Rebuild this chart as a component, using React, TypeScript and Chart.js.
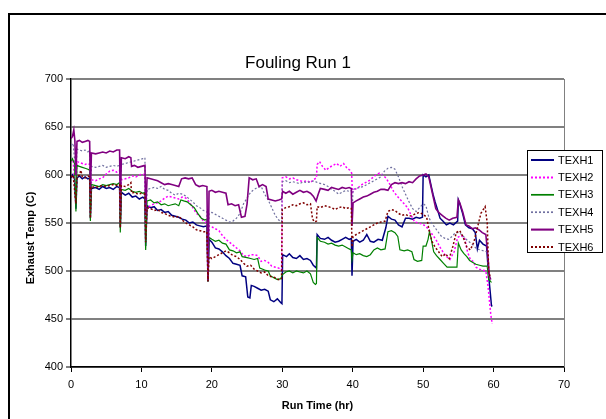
import React, { useEffect, useRef } from "react";
import { Chart, registerables } from "chart.js";

Chart.register(...registerables);

const TITLE = "Fouling Run 1";
const X_TITLE = "Run Time (hr)";
const Y_TITLE = "Exhaust Temp (C)";
const SERIES_NAMES = ["TEXH1", "TEXH2", "TEXH3", "TEXH4", "TEXH5", "TEXH6"];
const X_MIN = 0, X_MAX = 70, X_STEP = 10;
const Y_MIN = 400, Y_MAX = 700, Y_STEP = 50;

// [hours, temp C]
const texh1: [number, number][] = [
  [0,597],[0.2,600],[0.5,596],[0.7,565],[0.85,597],[1.2,599],[1.6,596],[2,598],[2.4,596],[2.65,597],[2.75,555],[2.9,586],
  [3.5,587],[4,585],[4.5,588],[5,586],[5.5,587],[6,585],[6.5,588],[6.9,587],[7,545],[7.15,582],[7.7,579],[8.2,581],
  [8.7,577],[9.2,578],[9.7,575],[10.2,577],[10.5,575],[10.6,526],[10.8,568],[11.3,566],[11.8,567],[12.3,563],[12.8,564],
  [13.3,561],[13.8,562],[14.3,558],[14.8,557],[15.3,556],[15.8,554],[16.3,553],[16.8,550],[17.3,551],[17.8,548],[18.3,547],
  [18.8,546],[19.3,547],[19.45,489],[19.6,533],[20,530],[20.5,524],[21,523],[21.5,520],[22,516],[22.5,513],[23,508],
  [23.5,507],[24,506],[24.3,495],[24.8,494],[25.1,473],[25.4,472],[25.6,485],[26,484],[26.5,482],[27,480],[27.5,481],
  [28,479],[28.3,470],[28.8,468],[29.3,471],[29.8,467],[29.95,466],[30.05,517],[30.6,515],[31,518],[31.5,514],[32,513],
  [32.5,516],[33,512],[33.5,513],[34,511],[34.4,506],[34.7,504],[34.85,503],[34.95,538],[35.4,534],[36,533],[36.5,535],
  [37,532],[37.5,530],[38,531],[38.5,533],[39,535],[39.5,533],[39.8,534],[39.9,495],[40.05,531],[40.5,533],[41,530],
  [41.5,532],[42,538],[42.5,531],[43,530],[43.6,533],[44.2,532],[44.7,545],[45,557],[45.5,554],[46,553],[46.5,548],
  [47,546],[47.5,555],[48,555],[48.5,554],[49,556],[49.5,555],[49.9,556],[50,600],[50.4,598],[50.8,600],[51.1,590],
  [51.4,580],[51.7,572],[52,565],[52.4,555],[52.8,552],[53.3,548],[53.8,550],[54.3,548],[54.9,552],[55,574],[55.2,570],
  [55.6,560],[56,548],[56.5,545],[57,544],[57.4,540],[57.7,523],[58,532],[58.5,528],[59,526],[59.3,495],[59.5,480],
  [59.7,464],[59.8,463]
];

const texh2: [number, number][] = [
  [0,614],[0.3,616],[0.7,575],[0.85,614],[1.2,613],[1.6,612],[2,611],[2.4,612],[2.65,611],[2.75,560],[2.9,595],
  [3.5,594],[4,596],[4.5,597],[5,601],[5.5,604],[6,605],[6.5,603],[6.9,605],[7,550],[7.15,595],[7.7,596],[8.2,597],
  [8.7,599],[9.2,598],[9.7,600],[10.2,601],[10.5,600],[10.6,535],[10.8,566],[11.3,568],[11.8,570],[12.3,571],[12.8,573],
  [13.3,576],[13.8,578],[14.3,577],[14.8,576],[15.3,575],[15.8,577],[16.3,576],[16.8,572],[17.3,566],[17.8,560],
  [18.3,557],[18.8,552],[19.3,550],[19.45,495],[19.6,547],[20,546],[20.5,544],[21,542],[21.5,537],[22,533],[22.5,530],
  [23,527],[23.5,524],[24,521],[24.5,516],[25,515],[25.5,517],[26,517],[26.5,516],[27,510],[27.5,511],[28,509],
  [28.5,505],[29,504],[29.5,503],[29.9,501],[30,597],[30.5,598],[31,596],[31.5,597],[32,595],[32.5,594],[33,593],
  [33.5,594],[34,592],[34.4,595],[34.85,597],[34.95,611],[35.3,614],[35.7,609],[36.2,605],[36.7,608],[37.2,610],
  [37.7,612],[38.2,609],[38.7,612],[39.2,607],[39.6,605],[39.85,602],[39.95,582],[40.3,585],[40.8,587],[41.3,590],
  [41.8,592],[42.3,594],[42.8,597],[43.3,600],[43.8,602],[44.3,600],[44.8,596],[45.3,590],[45.8,583],[46.3,578],
  [46.8,574],[47.3,570],[47.8,566],[48.3,558],[48.8,551],[49.3,550],[49.8,549],[50.3,547],[50.8,543],[51.3,538],
  [51.8,533],[52.3,526],[52.8,520],[53.3,515],[53.8,512],[54.4,520],[54.9,535],[55.4,537],[55.9,534],[56.3,520],
  [56.7,512],[57.1,510],[57.5,504],[57.9,502],[58.4,501],[58.9,500],[59.2,485],[59.4,470],[59.6,455],[59.8,445]
];

const texh3: [number, number][] = [
  [0,614],[0.2,617],[0.5,612],[0.7,562],[0.85,610],[1.2,609],[1.6,608],[2,607],[2.4,606],[2.65,605],[2.75,552],[2.9,590],
  [3.5,589],[4,588],[4.5,590],[5,589],[5.5,590],[6,591],[6.5,590],[6.9,592],[7,540],[7.15,585],[7.7,584],[8.2,586],
  [8.7,583],[9.2,582],[9.7,583],[10.2,581],[10.5,582],[10.6,522],[10.8,573],[11.3,574],[11.8,571],[12.3,572],[12.8,569],
  [13.3,570],[13.8,568],[14.3,569],[14.8,570],[15.3,568],[15.6,574],[16,573],[16.5,572],[17,569],[17.5,566],[18,560],
  [18.5,555],[19,553],[19.3,554],[19.45,489],[19.6,535],[20,533],[20.5,531],[21,532],[21.5,529],[22,528],[22.5,522],
  [23,521],[23.5,519],[24,520],[24.3,515],[25,514],[25.5,513],[26,512],[26.5,513],[26.8,503],[27.5,501],[28,500],
  [28.3,495],[28.8,493],[29.3,491],[29.8,492],[30,496],[30.5,499],[31,500],[31.5,498],[32,500],[32.5,499],[33,498],
  [33.5,500],[34,497],[34.4,488],[34.7,486],[34.85,487],[34.95,535],[35.4,531],[36,530],[36.5,528],[37,529],[37.5,527],
  [38,526],[38.5,527],[39,525],[39.5,523],[39.8,522],[39.9,512],[40.05,519],[40.5,517],[41,518],[41.5,516],[42,515],
  [42.5,517],[43,522],[43.5,524],[44,522],[44.6,523],[45,541],[45.5,542],[46,540],[46.4,536],[46.7,522],[47.3,521],
  [47.8,522],[48.4,520],[48.7,512],[49.2,510],[49.8,511],[50,526],[50.4,526],[50.7,533],[50.9,541],[51.1,535],[51.5,520],
  [51.9,516],[52.4,512],[52.9,508],[53.4,504],[53.9,504],[54.8,504],[55,529],[55.4,522],[55.8,518],[56.2,515],[56.6,511],
  [57,509],[57.5,507],[58,506],[58.5,505],[59.1,505],[59.3,491],[59.5,490],[59.7,488]
];

const texh4: [number, number][] = [
  [0,631],[0.3,633],[0.7,600],[0.85,627],[1.2,626],[1.6,625],[2,626],[2.4,624],[2.65,626],[2.75,575],[2.9,609],
  [3.5,608],[4,609],[4.5,610],[5,608],[5.5,609],[6,610],[6.5,609],[6.9,610],[7,560],[7.15,611],[7.7,612],[8.2,613],
  [8.7,614],[9.2,615],[9.7,616],[10.2,617],[10.5,618],[10.6,548],[10.8,585],[11.3,586],[11.8,587],[12.3,586],[12.8,588],
  [13.3,585],[13.8,584],[14.3,581],[14.8,579],[15.3,581],[15.8,580],[16.3,578],[16.8,575],[17.3,572],[17.8,568],
  [18.3,566],[18.8,563],[19.3,562],[19.45,500],[19.6,560],[20,561],[20.5,559],[21,557],[21.5,555],[22,553],[22.5,551],
  [23,552],[23.5,555],[24,560],[24.5,570],[25,576],[25.5,582],[26,585],[26.5,587],[27,588],[27.5,580],[28,574],
  [28.5,566],[29,558],[29.5,553],[29.9,551],[30,593],[30.5,594],[31,592],[31.5,593],[32,592],[32.5,591],[33,593],
  [33.5,592],[34,593],[34.5,594],[35,592],[35.5,591],[36,590],[36.5,588],[37,585],[37.5,583],[38,580],[38.5,582],
  [39,584],[39.5,583],[39.8,584],[39.9,560],[40.05,585],[40.5,586],[41,587],[41.5,588],[42,590],[42.5,592],[43,594],
  [43.5,596],[44,598],[44.5,604],[45,607],[45.5,608],[46,606],[46.5,598],[47,588],[47.5,580],[48,572],[48.5,565],
  [49,562],[49.5,566],[50,570],[50.4,568],[50.8,556],[51.2,550],[51.6,546],[52.1,541],[52.6,536],[53.1,534],[53.6,533],
  [54.1,536],[54.6,540],[55.1,540],[55.6,537],[56.1,533],[56.6,530],[57.1,527],[57.6,523],[58.1,522],[58.6,521],
  [59.1,520],[59.3,495],[59.5,492]
];

const texh5: [number, number][] = [
  [0,638],[0.2,640],[0.4,647],[0.55,636],[0.7,600],[0.85,635],[1.2,636],[1.6,634],[2,635],[2.4,636],[2.65,635],[2.75,580],
  [2.9,623],[3.5,622],[4,623],[4.5,624],[5,623],[5.5,625],[6,624],[6.5,626],[6.9,626],[7,565],[7.15,618],[7.7,617],
  [8.2,619],[8.5,618],[8.6,609],[9,610],[9.5,608],[10,609],[10.5,610],[10.6,559],[10.8,597],[11.3,596],[11.8,595],
  [12.3,594],[12.8,592],[13.3,590],[13.8,591],[14.3,590],[14.8,589],[15.3,588],[15.7,596],[16.2,597],[16.7,596],
  [17.2,597],[17.7,590],[18.2,588],[18.7,589],[19.3,588],[19.45,490],[19.6,583],[20,584],[20.5,582],[21,583],[21.5,582],
  [22,581],[22.3,569],[22.8,570],[23.3,568],[23.8,569],[24.2,556],[24.7,557],[25,570],[25.3,597],[25.8,595],[26.3,596],
  [26.7,588],[27.2,590],[27.7,588],[28,575],[28.5,574],[29,573],[29.5,574],[29.9,575],[30.05,583],[30.5,581],[31,583],
  [31.5,580],[32,582],[32.5,584],[33,582],[33.5,583],[34,581],[34.4,578],[34.8,573],[35.1,580],[35.4,586],[36,585],
  [36.5,584],[37,587],[37.5,586],[38,585],[38.5,587],[39,586],[39.5,587],[39.8,586],[39.9,547],[40.05,571],[40.5,573],
  [41,575],[41.5,577],[42,578],[42.5,580],[43,582],[43.5,583],[44,585],[44.5,585],[45,584],[45.5,590],[46,592],
  [46.5,591],[47,592],[47.5,591],[48,593],[48.5,592],[49,596],[49.5,599],[50,600],[50.4,601],[50.8,598],[51.1,588],
  [51.4,578],[51.8,565],[52.2,561],[52.7,558],[53.2,555],[53.7,553],[54.2,555],[54.8,556],[55,574],[55.2,571],[55.6,562],
  [56.1,548],[56.5,547],[57,544],[57.4,545],[57.9,543],[58.4,540],[58.9,538],[59.2,515],[59.4,495],[59.6,491]
];

const texh6: [number, number][] = [
  [0,598],[0.3,600],[0.7,570],[0.85,598],[1.2,600],[1.4,605],[1.6,598],[2,597],[2.4,599],[2.65,598],[2.75,555],[2.9,588],
  [3.5,587],[4,588],[4.5,589],[5,588],[5.5,589],[6,590],[6.5,589],[6.9,590],[7,545],[7.15,589],[7.7,588],[8.2,590],
  [8.5,592],[8.6,581],[9,582],[9.5,580],[10,581],[10.5,580],[10.6,530],[10.8,566],[11.3,565],[11.8,563],[12.3,564],
  [12.8,561],[13.3,560],[13.8,558],[14.3,557],[14.8,556],[15.3,557],[15.8,553],[16.3,550],[16.8,548],[17.3,546],
  [17.8,543],[18.3,542],[18.8,541],[19.3,541],[19.45,489],[19.6,515],[20,513],[20.5,515],[21,517],[21.5,519],[22,521],
  [22.5,519],[23,516],[23.5,515],[24,512],[24.5,508],[25,505],[25.5,506],[26,502],[26.5,500],[27,498],[27.5,499],
  [28,495],[28.5,494],[29,493],[29.5,491],[29.9,492],[30,564],[30.5,566],[31,567],[31.5,569],[32,568],[32.5,570],
  [33,571],[33.5,569],[34,570],[34.3,554],[34.6,551],[34.85,552],[34.95,567],[35.4,566],[36,568],[36.5,567],[37,566],
  [37.5,564],[38,566],[38.5,567],[39,565],[39.5,566],[39.8,565],[39.9,525],[40.05,536],[40.5,538],[41,540],[41.5,542],
  [42,544],[42.5,546],[43,548],[43.5,550],[44,551],[44.6,552],[45,562],[45.5,564],[46,563],[46.5,560],[47,558],
  [47.5,559],[48,557],[48.5,558],[49,560],[49.5,561],[50,559],[50.5,556],[50.9,540],[51.3,530],[51.7,525],[52.2,520],
  [52.7,515],[53.2,518],[53.7,513],[54.2,525],[54.7,540],[55.2,542],[55.7,535],[56.2,525],[56.7,522],[57.2,530],
  [57.7,545],[58.2,560],[58.8,567],[59.1,550],[59.3,500],[59.5,494]
];

const SERIES = [texh1, texh2, texh3, texh4, texh5, texh6];
const COLORS = ["#000080", "#FF00FF", "#008000", "#7070A0", "#800080", "#800000"];
const WIDTHS = [1.5, 1.5, 1.2, 1.2, 1.6, 1.5];
const DASHES: number[][] = [[], [2, 2], [], [2, 2], [], [2, 2]];

const FONT = '"Liberation Sans", Arial, sans-serif';

const decor = {
  id: "decor",
  beforeDraw(chart: any) {
    const { ctx, width, height } = chart;
    ctx.save();
    ctx.fillStyle = "#ffffff";
    ctx.fillRect(0, 0, width, height);
    ctx.fillStyle = "#000000";
    ctx.fillRect(8, 13, width, 2);
    ctx.fillRect(8, 13, 2, height);
    ctx.restore();
  },
  afterDraw(chart: any) {
    const { ctx, chartArea: ca } = chart;
    ctx.save();
    ctx.strokeStyle = "#808080";
    ctx.lineWidth = 1;
    ctx.beginPath();
    ctx.moveTo(ca.right + 0.5, ca.top);
    ctx.lineTo(ca.right + 0.5, ca.bottom);
    ctx.stroke();

    ctx.fillStyle = "#000";
    ctx.textAlign = "center";
    ctx.textBaseline = "middle";
    ctx.font = `17px ${FONT}`;
    ctx.fillText(TITLE, 298, 63);

    ctx.font = `bold 11px ${FONT}`;
    ctx.fillText(X_TITLE, (ca.left + ca.right) / 2, 406);
    ctx.save();
    ctx.translate(31, 238);
    ctx.rotate(-Math.PI / 2);
    ctx.fillText(Y_TITLE, 0, 0);
    ctx.restore();

    // legend
    const lx = 527, ly = 150, lw = 75, lh = 102;
    ctx.fillStyle = "#fff";
    ctx.fillRect(lx, ly, lw, lh);
    ctx.strokeStyle = "#000";
    ctx.lineWidth = 1;
    ctx.strokeRect(lx + 0.5, ly + 0.5, lw, lh);
    ctx.font = `11px ${FONT}`;
    ctx.textAlign = "left";
    SERIES_NAMES.forEach((name, i) => {
      const y = 160 + i * 17.4;
      ctx.strokeStyle = COLORS[i];
      ctx.lineWidth = WIDTHS[i] + 0.5;
      ctx.setLineDash(DASHES[i]);
      ctx.beginPath();
      ctx.moveTo(531, y);
      ctx.lineTo(554, y);
      ctx.stroke();
      ctx.setLineDash([]);
      ctx.fillStyle = "#000";
      ctx.fillText(name, 558, y + 0.5);
    });
    ctx.restore();
  },
};

export default function App() {
  const ref = useRef<HTMLCanvasElement | null>(null);
  useEffect(() => {
    if (!ref.current) return;
    const chart = new Chart(ref.current, {
      type: "line",
      data: {
        datasets: SERIES.map((s, i) => ({
          label: SERIES_NAMES[i],
          data: s.map(([x, y]) => ({ x, y })),
          borderColor: COLORS[i],
          backgroundColor: COLORS[i],
          borderWidth: WIDTHS[i],
          borderDash: DASHES[i],
          pointRadius: 0,
          tension: 0,
          fill: false,
          order: 6 - i,
        })),
      },
      options: {
        responsive: false,
        animation: false,
        events: [],
        layout: { padding: { left: 8, right: 42, top: 79, bottom: 0 } },
        plugins: {
          legend: { display: false },
          title: { display: false },
          tooltip: { enabled: false },
        },
        scales: {
          x: {
            type: "linear",
            min: X_MIN,
            max: X_MAX,
            afterFit: (s: any) => { s.height = 52; },
            ticks: { stepSize: X_STEP, padding: 6, color: "#000", font: { family: FONT, size: 11 }, maxRotation: 0 },
            grid: { drawOnChartArea: false, tickLength: 5, tickColor: "#000", tickWidth: 1 },
            border: { color: "#000", width: 1.5 },
          },
          y: {
            type: "linear",
            min: Y_MIN,
            max: Y_MAX,
            afterFit: (s: any) => { s.width = 63; },
            ticks: { stepSize: Y_STEP, padding: 3, color: "#000", font: { family: FONT, size: 11 } },
            grid: { color: "#808080", lineWidth: 2, tickLength: 5, tickColor: "#000", tickWidth: 1 },
            border: { color: "#000", width: 1.5 },
          },
        },
      },
      plugins: [decor],
    });
    return () => chart.destroy();
  }, []);
  return (
    <div style={{ position: "fixed", left: 0, top: 0, width: 606, height: 419, overflow: "hidden", background: "#fff" }}>
      <canvas ref={ref} width={606} height={419} style={{ display: "block", width: 606, height: 419 }} />
    </div>
  );
}
